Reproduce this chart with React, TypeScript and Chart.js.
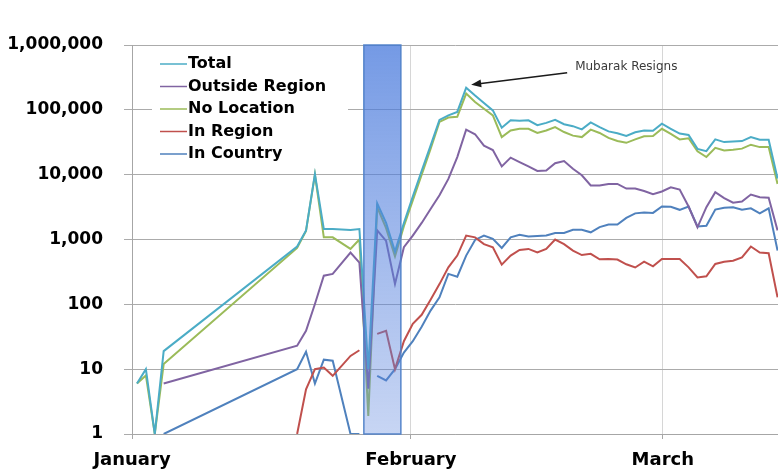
import { useEffect, useRef } from "react";
import { Chart, registerables } from "chart.js";

Chart.register(...registerables);

// Day index of each observation (gaps in January are days without data)
const days = [
  0, 1, 2, 3,
  18, 19, 20, 21, 22,
  24, 25, 26, 27, 28, 29,
  30, 31, 32, 33, 34, 35, 36, 37, 38, 39,
  40, 41, 42, 43, 44, 45, 46, 47, 48, 49,
  50, 51, 52, 53, 54, 55, 56, 57, 58, 59,
  60, 61, 62, 63, 64, 65, 66, 67, 68, 69,
  70, 71, 72,
];

const total = [
  6, 10, 1, 19,
  780, 1380, 10200, 1450, 1450,
  1400, 1450, 10, 3600, 1800, 650,
  1800, 4600, 11500, 28000, 70000, 82000, 93000, 220000, 166000, 127000,
  98000, 53000, 69000, 68000, 69000, 58000, 63000, 70000, 60000, 56000,
  50000, 64000, 54000, 46500, 43500, 39700, 45000, 48000, 47500, 61000,
  51000, 43000, 41000, 25000, 23000, 35000, 31800, 32500, 33000, 38000,
  34500, 34500, 8700,
];

const outsideRegion = [
  null, null, null, 6,
  23, 39, 101, 277, 295,
  630, 440, 5, 1380, 950, 206,
  760, 1150, 1800, 2950, 4800, 8600, 18700, 49500, 42000, 28000,
  24000, 13400, 18300, 15600, 13400, 11400, 11600, 15000, 16200, 12300,
  9800, 6800, 6800, 7200, 7200, 6100, 6100, 5600, 5000, 5500,
  6400, 5900, 3230, 1540, 3150, 5370, 4350, 3700, 3850, 4940,
  4480, 4400, 1380,
];

const noLocation = [
  6, 8, 1, 12,
  740, 1350, 10000, 1080, 1080,
  716, 1000, 1.9, 3150, 1500, 550,
  1600, 4000, 10000, 25000, 65000, 76000, 78000, 178000, 132000, 104000,
  82000, 38000, 48000, 51000, 51000, 44000, 48000, 54000, 45500, 40000,
  38000, 49500, 44000, 37000, 33000, 31000, 35000, 39000, 39500, 51000,
  42500, 35000, 36500, 23000, 18700, 26000, 23600, 24300, 25200, 29000,
  26600, 26600, 7200,
];

const inRegion = [
  null, null, null, null,
  1, 4.9, 10, 10.6, 7.9,
  16, 19.6, null, 35, 39, 10,
  27, 50, 69, 118, 205, 372, 565, 1150, 1080, 850,
  760, 410, 565, 690, 716, 630, 716, 1000, 850, 675,
  575, 600, 495, 500, 490, 415, 370, 455, 385, 500,
  500, 500, 372, 260, 270, 420, 455, 470, 530, 780,
  630, 615, 128,
];

const inCountry = [
  null, null, null, 1,
  10, 18.6, 6, 14, 13.5,
  1, 1, null, 7.9, 6.7, 10,
  18, 27, 45, 80, 128, 295, 267, 565, 985, 1150,
  1025, 740, 1080, 1180, 1110, 1130, 1150, 1260, 1260, 1410,
  1410, 1290, 1550, 1700, 1700, 2150, 2530, 2600, 2570, 3230,
  3200, 2870, 3230, 1590, 1630, 2900, 3080, 3150, 2870, 3030,
  2530, 3030, 675,
];

const seriesLabels = ["Total", "Outside Region", "No Location", "In Region", "In Country"];
const seriesValues = [total, outsideRegion, noLocation, inRegion, inCountry];
const seriesColors = ["#4BACC6", "#8064A2", "#9BBB59", "#C0504D", "#4F81BD"];

const monthTickDays = [-0.56, 30.79, 59.1];
const monthLabels = ["January", "February", "March"];
const xRange = [-0.56, 72.05];

const yTickValues = [1, 10, 100, 1000, 10000, 100000, 1000000];

const shadeDays = [25.5, 29.66];
const shadeValues = [1, 1000000];

const annotationText = "Mubarak Resigns";
const annotationDay = 37;

const FONT = "'DejaVu Sans', 'Liberation Sans', sans-serif";

const overlayPlugin = {
  id: "overlay",
  afterDatasetsDraw(chart: any) {
    const { ctx, scales } = chart;
    const xs = scales.x;
    const ys = scales.y;
    ctx.save();

    // shaded period box
    const x0 = xs.getPixelForValue(shadeDays[0]);
    const x1 = xs.getPixelForValue(shadeDays[1]);
    const yTop = ys.getPixelForValue(shadeValues[1]);
    const yBot = ys.getPixelForValue(shadeValues[0]);
    const g = ctx.createLinearGradient(0, yTop, 0, yBot);
    g.addColorStop(0, "rgba(70,120,220,0.75)");
    g.addColorStop(1, "rgba(95,135,222,0.35)");
    ctx.fillStyle = g;
    ctx.fillRect(x0, yTop, x1 - x0, yBot - yTop);
    ctx.strokeStyle = "rgba(79,129,200,0.95)";
    ctx.lineWidth = 1.5;
    ctx.strokeRect(x0, yTop, x1 - x0, yBot - yTop);

    // legend (inside plot, top-left)
    const left = chart.chartArea.left;
    ctx.fillStyle = "#ffffff";
    ctx.fillRect(left + 20, 52, 196, 113);
    ctx.font = `bold 16px ${FONT}`;
    ctx.textBaseline = "middle";
    ctx.textAlign = "left";
    chart.data.datasets.forEach((ds: any, i: number) => {
      const yy = 64 + i * 22.5;
      ctx.strokeStyle = ds.borderColor;
      ctx.lineWidth = 1.5;
      ctx.beginPath();
      ctx.moveTo(left + 28, yy);
      ctx.lineTo(left + 55, yy);
      ctx.stroke();
      ctx.fillStyle = "#000000";
      ctx.fillText(ds.label, left + 56, yy);
    });

    // annotation arrow
    const idx = days.indexOf(annotationDay);
    const px = xs.getPixelForValue(annotationDay);
    const py = ys.getPixelForValue(total[idx]);
    const hx = px + 5;
    const hy = py - 3;
    const tx = px + 101;
    const ty = py - 15;
    ctx.strokeStyle = "#1a1a1a";
    ctx.fillStyle = "#1a1a1a";
    ctx.lineWidth = 1.5;
    const ang = Math.atan2(hy - ty, hx - tx);
    const hl = 10;
    ctx.beginPath();
    ctx.moveTo(tx, ty);
    ctx.lineTo(hx - Math.cos(ang) * (hl - 2), hy - Math.sin(ang) * (hl - 2));
    ctx.stroke();
    ctx.beginPath();
    ctx.moveTo(hx, hy);
    ctx.lineTo(hx - hl * Math.cos(ang) + 4 * Math.sin(ang), hy - hl * Math.sin(ang) - 4 * Math.cos(ang));
    ctx.lineTo(hx - hl * Math.cos(ang) - 4 * Math.sin(ang), hy - hl * Math.sin(ang) + 4 * Math.cos(ang));
    ctx.closePath();
    ctx.fill();
    ctx.fillStyle = "#3a3a3a";
    ctx.font = `12px ${FONT}`;
    ctx.textBaseline = "middle";
    ctx.fillText(annotationText, px + 109, py - 21);

    ctx.restore();
  },
};

export default function App() {
  const ref = useRef<HTMLCanvasElement | null>(null);

  useEffect(() => {
    if (!ref.current) return;
    const chart = new Chart(ref.current, {
      type: "line",
      data: {
        datasets: seriesLabels.map((label, i) => ({
          label,
          data: days.map((d, j) => ({ x: d, y: seriesValues[i][j] as any })),
          borderColor: seriesColors[i],
          backgroundColor: seriesColors[i],
          borderWidth: 2,
          pointRadius: 0,
          tension: 0,
          spanGaps: false,
          fill: false,
        })),
      },
      options: {
        responsive: false,
        animation: false,
        layout: { padding: { top: 45, left: 0, right: 0, bottom: 0 } },
        plugins: {
          legend: { display: false },
          tooltip: { enabled: false },
        },
        scales: {
          x: {
            type: "linear",
            min: xRange[0],
            max: xRange[1],
            afterBuildTicks: (axis: any) => {
              axis.ticks = monthTickDays.map((v) => ({ value: v }));
            },
            afterFit: (axis: any) => {
              axis.height = 37;
            },
            grid: { color: "#d6d6d6", tickLength: 5, tickColor: "#a6a6a6" },
            border: { color: "#a6a6a6" },
            ticks: {
              autoSkip: false,
              maxRotation: 0,
              padding: 11,
              color: "#000000",
              font: { family: FONT, size: 18, weight: "bold" },
              callback: (_v: any, i: number) => monthLabels[i],
            },
          },
          y: {
            type: "logarithmic",
            min: 1,
            max: 1000000,
            afterBuildTicks: (axis: any) => {
              axis.ticks = yTickValues.map((v) => ({ value: v }));
            },
            afterFit: (axis: any) => {
              axis.width = 132;
            },
            grid: { color: "#ababab", tickLength: 8 },
            border: { color: "#a6a6a6" },
            ticks: {
              padding: 21,
              color: "#000000",
              font: { family: FONT, size: 17, weight: "bold" },
              callback: (v: any) => Number(v).toLocaleString("en-US"),
            },
          },
        },
      },
      plugins: [overlayPlugin],
    });
    return () => chart.destroy();
  }, []);

  return (
    <div style={{ position: "absolute", left: 0, top: 0, width: 778, height: 471, background: "#fff" }}>
      <canvas ref={ref} width={778} height={471} style={{ display: "block" }} />
    </div>
  );
}
